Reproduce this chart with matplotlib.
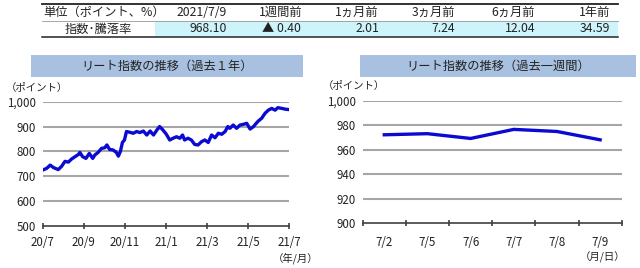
import matplotlib
matplotlib.use("Agg")
import matplotlib.pyplot as plt
import matplotlib.dates as mdates
from matplotlib.patches import Rectangle
from matplotlib.lines import Line2D
import numpy as np
import pandas as pd

plt.rcParams['font.family'] = ['Noto Sans CJK JP', 'DejaVu Sans']

# ---- datos de la tabla ----
cab = ["単位（ポイント、%）", "2021/7/9", "1週間前", "1ヵ月前", "3ヵ月前", "6ヵ月前", "1年前"]
fila = ["指数･騰落率", "968.10", "▲ 0.40", "2.01", "7.24", "12.04", "34.59"]

# ---- último año ----
fechas = ["2020-07-09", "2020-07-15", "2020-07-20", "2020-07-25", "2020-08-01", "2020-08-06",
          "2020-08-11", "2020-08-16", "2020-08-21", "2020-08-26", "2020-08-31", "2020-09-02",
          "2020-09-06", "2020-09-11", "2020-09-16", "2020-09-21", "2020-09-24", "2020-09-29",
          "2020-10-04", "2020-10-09", "2020-10-12", "2020-10-16", "2020-10-21", "2020-10-26",
          "2020-10-29", "2020-11-01", "2020-11-04", "2020-11-07", "2020-11-10", "2020-11-15",
          "2020-11-20", "2020-11-25", "2020-11-30", "2020-12-05", "2020-12-10", "2020-12-15",
          "2020-12-20", "2020-12-25", "2020-12-29", "2021-01-03", "2021-01-08", "2021-01-13",
          "2021-01-18", "2021-01-23", "2021-01-28", "2021-02-01", "2021-02-04", "2021-02-09",
          "2021-02-14", "2021-02-19", "2021-02-24", "2021-03-01", "2021-03-06", "2021-03-11",
          "2021-03-16", "2021-03-21", "2021-03-26", "2021-03-31", "2021-04-05", "2021-04-09",
          "2021-04-12", "2021-04-17", "2021-04-22", "2021-04-27", "2021-05-02", "2021-05-07",
          "2021-05-12", "2021-05-17", "2021-05-21", "2021-05-24", "2021-05-29", "2021-06-03",
          "2021-06-08", "2021-06-13", "2021-06-18", "2021-06-22", "2021-06-28", "2021-07-03",
          "2021-07-09"]
indice = [725, 732, 745, 735, 727, 740, 760, 757, 770, 779, 788, 796,
          779, 772, 792, 772, 785, 796, 812, 815, 826, 808, 806, 796,
          781, 800, 836, 846, 880, 877, 873, 880, 876, 882, 866, 882,
          866, 886, 900, 886, 869, 846, 853, 859, 853, 866, 846, 853,
          846, 828, 826, 839, 846, 836, 866, 855, 873, 869, 880, 900,
          893, 906, 893, 906, 909, 913, 890, 900, 913, 922, 933, 953,
          966, 973, 966, 976, 973, 970, 968.1]
meses = ["20/7", "20/9", "20/11", "21/1", "21/3", "21/5", "21/7"]

# ---- última semana ----
dias = ["7/2", "7/5", "7/6", "7/7", "7/8", "7/9"]
semana = [972.2, 973.1, 969.2, 976.6, 974.9, 968.1]

azul = "#0a0ad2"
gris = "#a6a6a6"
banda = "#a9c1e0"

W, H = 640, 268
fig = plt.figure(figsize=(6.4, 2.68), dpi=100)

def fx(px):
    return px / W

def fy(py):
    return 1 - py / H

# ---------- tabla ----------
fig.add_artist(Rectangle((fx(155), fy(36)), fx(618) - fx(155), fy(21) - fy(36),
                         transform=fig.transFigure, color="#cdf4fb", lw=0))
fig.add_artist(Line2D([fx(42), fx(618)], [fy(3.5), fy(3.5)], transform=fig.transFigure, color="#222222", lw=1.3))
fig.add_artist(Line2D([fx(42), fx(618)], [fy(20.7), fy(20.7)], transform=fig.transFigure, color="#999999", lw=0.6))
fig.add_artist(Line2D([fx(42), fx(618)], [fy(36.5), fy(36.5)], transform=fig.transFigure, color="#222222", lw=1.1))

der = [227, 302, 379, 455, 535, 610]
fig.text(fx(43), fy(12.5), cab[0], fontsize=8.8, ha="left", va="center", color="#222222")
fig.text(fx(98), fy(29), fila[0], fontsize=8.8, ha="center", va="center", color="#222222")
for i in range(1, 7):
    fig.text(fx(der[i - 1]), fy(12.5), cab[i], fontsize=8.8, ha="right", va="center", color="#222222")
    if i == 2:
        fig.text(fx(262), fy(29), fila[i], fontsize=8.8, ha="left", va="center", color="#222222")
    else:
        fig.text(fx(der[i - 1]), fy(29), fila[i], fontsize=8.8, ha="right", va="center", color="#222222")

# ---------- bandas de título ----------
fig.add_artist(Rectangle((fx(30.5), fy(76.5)), fx(303) - fx(30.5), fy(55) - fy(76.5),
                         transform=fig.transFigure, color=banda, lw=0))
fig.text(fx(167), fy(66), "リート指数の推移（過去１年）", fontsize=8.8, ha="center", va="center", color="#222222")
fig.add_artist(Rectangle((fx(360), fy(76.5)), fx(636) - fx(360), fy(55) - fy(76.5),
                         transform=fig.transFigure, color=banda, lw=0))
fig.text(fx(498), fy(66), "リート指数の推移（過去一週間）", fontsize=8.8, ha="center", va="center", color="#222222")


def estilo(ax, ymin, ymax, paso):
    for s in ["top", "right", "left"]:
        ax.spines[s].set_visible(False)
    ax.spines["bottom"].set_color("#404040")
    ax.spines["bottom"].set_linewidth(1.2)
    ax.set_ylim(ymin, ymax)
    ax.set_yticks(np.arange(ymin, ymax + 1, paso))
    ax.yaxis.set_major_formatter(matplotlib.ticker.FuncFormatter(lambda v, p: f"{v:,.0f}"))
    ax.tick_params(axis="y", length=0, labelsize=8.3, labelcolor="#222222", pad=5)
    ax.tick_params(axis="x", direction="inout", length=4, width=1.2, color="#404040",
                   labelsize=8.3, labelcolor="#222222", pad=5)
    for v in np.arange(ymin + paso, ymax + 1, paso):
        ax.axhline(v, color=gris, lw=1.5, zorder=1)


# ---------- gráfico 1 año ----------
ax1 = fig.add_axes([fx(42.7), fy(226), fx(289.3) - fx(42.7), fy(101.7) - fy(226)])
estilo(ax1, 500, 1000, 100)
t = pd.to_datetime(fechas)
ax1.plot(t, indice, color=azul, lw=2.4, zorder=3)
ax1.set_xlim(t[0], t[-1])
pos = np.linspace(mdates.date2num(t[0]), mdates.date2num(t[-1]), len(meses))
ax1.set_xticks(pos)
ax1.set_xticklabels(meses)
fig.text(fx(6), fy(88), "（ポイント）", fontsize=7.5, ha="left", va="center", color="#222222")
fig.text(fx(296), fy(258), "（年/月）", fontsize=7.5, ha="center", va="center", color="#222222")

# ---------- gráfico 1 semana ----------
ax2 = fig.add_axes([fx(362.7), fy(223.3), fx(621.7) - fx(362.7), fy(100.7) - fy(223.3)])
estilo(ax2, 900, 1000, 20)
x = np.arange(len(dias))
ax2.plot(x, semana, color=azul, lw=2.4, zorder=3)
ax2.set_xlim(-0.5, len(dias) - 0.5)
ax2.set_xticks(np.arange(-0.5, len(dias)))
ax2.set_xticklabels([])
ax2.set_xticks(x, minor=True)
ax2.set_xticklabels(dias, minor=True)
ax2.tick_params(axis="x", which="minor", length=0, labelsize=8.3, labelcolor="#222222", pad=9)
fig.text(fx(323), fy(86), "（ポイント）", fontsize=7.5, ha="left", va="center", color="#222222")
fig.text(fx(603), fy(257), "（月/日）", fontsize=7.5, ha="center", va="center", color="#222222")

plt.savefig("out.png", dpi=100)
